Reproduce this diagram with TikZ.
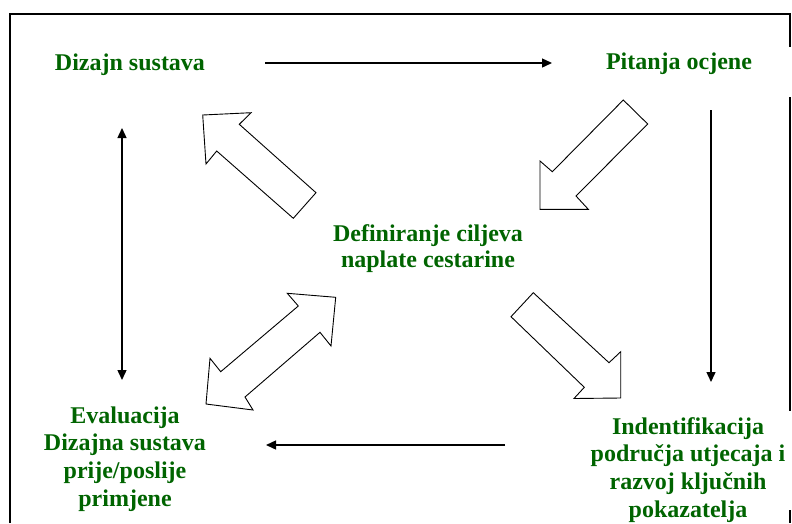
\documentclass[tikz,border=0pt]{standalone}
\usepackage{fontspec}
\setmainfont{Liberation Serif}
\usetikzlibrary{arrows.meta}
\definecolor{dkgreen}{RGB}{0,100,0}
\begin{document}
\begin{tikzpicture}[x=1pt,y=-1pt,
  lbl/.style={font=\bfseries\fontsize{24}{27.6}\selectfont, text=dkgreen, align=center, inner sep=0pt, anchor=base},
  conn/.style={line width=1.4pt, -{Triangle[length=10pt,width=9pt]}},
  dconn/.style={line width=1.4pt, {Triangle[length=10pt,width=9pt]}-{Triangle[length=10pt,width=9pt]}},
  blockarrow/.style={draw, fill=white, line width=0.9pt, line join=miter},
  frameline/.style={line width=1.4pt}]
\useasboundingbox (0,0) rectangle (792,523);
% frame
\draw[frameline] (10,523) -- (10,14) -- (790,14) -- (790,47);
\draw[frameline] (790,97) -- (790,411);
\draw[frameline] (790,510) -- (790,523);
% labels (base anchor = baseline of the last line)
\node[lbl] (dizajn) at (130,70) {Dizajn sustava};
\node[lbl] (pitanja) at (679,69) {Pitanja ocjene};
\node[lbl, font=\bfseries\fontsize{24}{25.5}\selectfont] (cilj) at (428,267) {Definiranje ciljeva\\naplate cestarine};
\node[lbl] (eval) at (125,506) {Evaluacija\\Dizajna sustava\\prije/poslije\\primjene};
\node[lbl] (ident) at (688,517) {Indentifikacija\\područja utjecaja i\\razvoj ključnih\\pokazatelja};
% thin connectors
\coordinate (t1) at (265,63); \coordinate (t2) at (552,63);
\draw[conn] (t1) -- (t2);
\coordinate (r1) at (711,110); \coordinate (r2) at (711,382);
\draw[conn] (r1) -- (r2);
\coordinate (b1) at (505,445); \coordinate (b2) at (266,445);
\draw[conn] (b1) -- (b2);
\coordinate (l1) at (122,380); \coordinate (l2) at (122,128);
\draw[dconn] (l1) -- (l2);
% block arrows
\draw[blockarrow] (202.7,115) -- (251,112.7) -- (239.3,124.3) -- (316,192.7) -- (293.3,218.3) -- (216.7,151) -- (206,164) -- cycle;
\draw[blockarrow] (623.3,100) -- (647.7,124) -- (576,196) -- (588.3,209.3) -- (540,209.3) -- (540,161) -- (552.3,171.7) -- cycle;
\draw[blockarrow] (287.3,293.3) -- (335.7,297.3) -- (331,346) -- (320,332.3) -- (245,397) -- (253,410) -- (206,404) -- (210,358.3) -- (220.7,371.7) -- (298.3,306) -- cycle;
\draw[blockarrow] (533.3,292.7) -- (511,316.7) -- (584.3,387.3) -- (574,398.5) -- (620.7,398) -- (620.7,351.7) -- (609,362.7) -- cycle;
\end{tikzpicture}
\end{document}
